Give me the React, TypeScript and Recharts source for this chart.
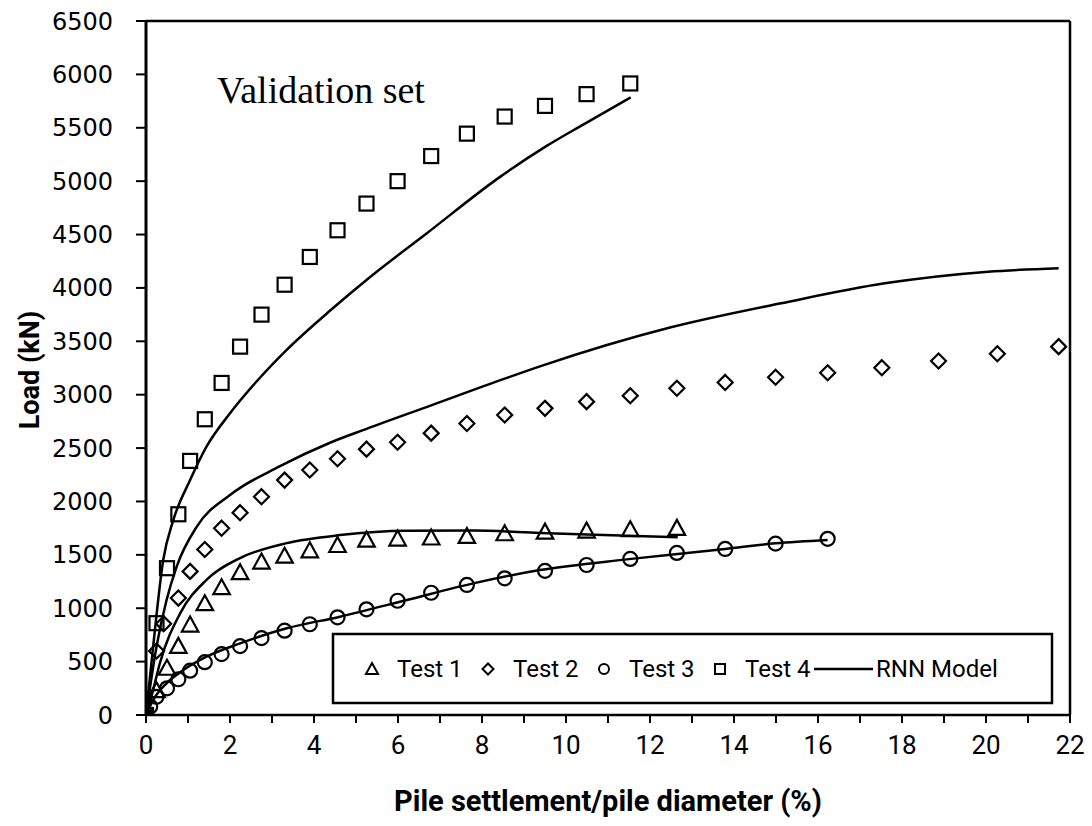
import React from 'react';
import { ComposedChart, Scatter, Line, XAxis, YAxis, ReferenceLine, Customized } from 'recharts';

const test1X = [0, 0.25, 0.5, 0.77, 1.05, 1.4, 1.8, 2.24, 2.75, 3.3, 3.9, 4.56, 5.25, 5.99, 6.79, 7.64, 8.54, 9.5, 10.49, 11.53, 12.64];
const test1Y = [0, 230, 440, 645, 845, 1045, 1195, 1335, 1435, 1490, 1540, 1590, 1640, 1650, 1660, 1675, 1700, 1715, 1725, 1738, 1750];

const test2X = [0, 0.25, 0.42, 0.77, 1.05, 1.4, 1.8, 2.24, 2.75, 3.3, 3.9, 4.56, 5.25, 5.99, 6.79, 7.64, 8.54, 9.5, 10.49, 11.53, 12.64, 13.79, 14.99, 16.23, 17.52, 18.87, 20.27, 21.73];
const test2Y = [0, 600, 855, 1095, 1345, 1550, 1750, 1895, 2045, 2200, 2295, 2400, 2490, 2555, 2640, 2730, 2810, 2872, 2935, 2990, 3060, 3115, 3163, 3206, 3253, 3316, 3384, 3450];

const test3X = [0, 0.1, 0.25, 0.5, 0.77, 1.05, 1.4, 1.8, 2.24, 2.75, 3.3, 3.9, 4.56, 5.25, 5.99, 6.79, 7.64, 8.54, 9.5, 10.49, 11.53, 12.64, 13.79, 14.99, 16.23];
const test3Y = [0, 80, 170, 250, 335, 415, 495, 570, 645, 720, 790, 850, 915, 990, 1070, 1145, 1218, 1280, 1350, 1405, 1462, 1518, 1555, 1605, 1650];

const test4X = [0, 0.25, 0.5, 0.77, 1.05, 1.4, 1.8, 2.24, 2.75, 3.3, 3.9, 4.56, 5.25, 5.99, 6.79, 7.64, 8.54, 9.5, 10.49, 11.53];
const test4Y = [0, 860, 1375, 1880, 2380, 2770, 3110, 3450, 3750, 4030, 4290, 4540, 4790, 5000, 5235, 5445, 5605, 5705, 5815, 5915];

const rnn1X = [0, 0.17, 0.33, 0.81, 1.44, 2.24, 3.35, 4.62, 6.21, 7.79, 9.38, 10.5, 12.66];
const rnn1Y = [0, 235, 485, 950, 1265, 1470, 1610, 1685, 1725, 1727, 1705, 1690, 1665];

const rnn2X = [0, 0.25, 0.49, 0.73, 1.21, 2.0, 3.19, 4.38, 5.25, 6.79, 8.54, 9.38, 12.5, 15.12, 17.59, 20.05, 21.73];
const rnn2Y = [0, 640, 1077, 1390, 1765, 2060, 2330, 2550, 2680, 2900, 3150, 3265, 3631, 3856, 4043, 4152, 4185];

const rnn3X = [0, 0.17, 0.49, 0.89, 1.44, 2.24, 3.35, 4.62, 6.21, 7.79, 9.38, 11.5, 13.79, 14.99, 16.23];
const rnn3Y = [0, 140, 297, 421, 546, 671, 812, 921, 1077, 1233, 1358, 1460, 1555, 1608, 1640];

const rnn4X = [0, 0.17, 0.41, 0.65, 1.05, 1.44, 2.0, 2.67, 3.35, 4.42, 5.33, 6.68, 8.43, 9.54, 10.41, 11.54];
const rnn4Y = [0, 640, 1452, 1826, 2200, 2513, 2826, 3140, 3420, 3800, 4100, 4510, 5040, 5330, 5530, 5785];

const xTicks = [0, 1, 2, 3, 4, 5, 6, 7, 8, 9, 10, 11, 12, 13, 14, 15, 16, 17, 18, 19, 20, 21, 22];
const yTicks = [0, 500, 1000, 1500, 2000, 2500, 3000, 3500, 4000, 4500, 5000, 5500, 6000, 6500];

const legendLabels = ['Test 1', 'Test 2', 'Test 3', 'Test 4', 'RNN Model'];
const xTitle = 'Pile settlement/pile diameter (%)';
const yTitle = 'Load (kN)';
const note = 'Validation set';

const zip = (xs: number[], ys: number[]) => xs.map((x, i) => ({ x, y: ys[i] }));

const t1 = zip(test1X, test1Y);
const t2 = zip(test2X, test2Y);
const t3 = zip(test3X, test3Y);
const t4 = zip(test4X, test4Y);
const r1 = zip(rnn1X, rnn1Y);
const r2 = zip(rnn2X, rnn2Y);
const r3 = zip(rnn3X, rnn3Y);
const r4 = zip(rnn4X, rnn4Y);

const SANS = "Roboto, 'Noto Sans', sans-serif";
const SW = 2.2;

const triPath = (cx: number, cy: number, s: number) =>
  `M${cx},${cy - s * 0.55} L${cx + s * 0.55},${cy + s * 0.45} L${cx - s * 0.55},${cy + s * 0.45} Z`;
const diaPath = (cx: number, cy: number, s: number) =>
  `M${cx},${cy - s / 2} L${cx + s / 2},${cy} L${cx},${cy + s / 2} L${cx - s / 2},${cy} Z`;

const Tri = (p: any) => <path d={triPath(p.cx, p.cy, 15)} fill="none" stroke="#000" strokeWidth={SW} />;
const Dia = (p: any) => <path d={diaPath(p.cx, p.cy, 15)} fill="none" stroke="#000" strokeWidth={SW} />;
const Cir = (p: any) => <circle cx={p.cx} cy={p.cy} r={7} fill="none" stroke="#000" strokeWidth={SW} />;
const Sq = (p: any) => <rect x={p.cx - 7} y={p.cy - 7} width={14} height={14} fill="none" stroke="#000" strokeWidth={SW} />;

const Overlay = () => {
  const ly = 661;
  const fs = 24;
  const step = 116;
  const t0 = 389;
  return (
    <g>
      <text x={209} y={95} fontFamily="'Liberation Serif', 'Times New Roman', serif" fontSize={38} fill="#000">{note}</text>
      <text x={600} y={803} textAnchor="middle" fontFamily={SANS} fontWeight="bold" fontSize={29} fill="#000">{xTitle}</text>
      <text x={0} y={0} transform="translate(31,362) rotate(-90)" textAnchor="middle" fontFamily={SANS} fontWeight="bold" fontSize={27} fill="#000">{yTitle}</text>
      <rect x={325} y={626} width={719} height={69} fill="#fff" stroke="#000" strokeWidth={2.5} />
      <path d={triPath(t0 - 25, ly, 11)} fill="none" stroke="#000" strokeWidth={2} />
      <text x={t0} y={ly + 8} fontFamily={SANS} fontSize={fs} fill="#000">{legendLabels[0]}</text>
      <path d={diaPath(t0 + step - 25, ly, 11)} fill="none" stroke="#000" strokeWidth={2} />
      <text x={t0 + step} y={ly + 8} fontFamily={SANS} fontSize={fs} fill="#000">{legendLabels[1]}</text>
      <circle cx={t0 + 2 * step - 25} cy={ly} r={5} fill="none" stroke="#000" strokeWidth={2} />
      <text x={t0 + 2 * step} y={ly + 8} fontFamily={SANS} fontSize={fs} fill="#000">{legendLabels[2]}</text>
      <rect x={t0 + 3 * step - 30} y={ly - 5} width={10} height={10} fill="none" stroke="#000" strokeWidth={2} />
      <text x={t0 + 3 * step} y={ly + 8} fontFamily={SANS} fontSize={fs} fill="#000">{legendLabels[3]}</text>
      <line x1={t0 + 3 * step + 69} y1={ly} x2={t0 + 3 * step + 128} y2={ly} stroke="#000" strokeWidth={2.5} />
      <text x={t0 + 3 * step + 131} y={ly + 8} fontFamily={SANS} fontSize={fs} fill="#000">{legendLabels[4]}</text>
    </g>
  );
};

export default function App() {
  const tickStyle = { fill: '#000', fontSize: 26, fontFamily: SANS };
  return (
    <ComposedChart width={1076} height={810} margin={{ top: 13, right: 14, bottom: 13, left: 38 }}>
      <XAxis
        type="number"
        dataKey="x"
        domain={[0, 22]}
        ticks={xTicks}
        interval={0}
        allowDataOverflow
        height={90}
        tickSize={8}
        tickMargin={13}
        tick={tickStyle}
        tickFormatter={(v: number) => (v % 2 === 0 ? String(v) : '')}
        axisLine={{ stroke: '#000', strokeWidth: 2.5 }}
        tickLine={{ stroke: '#000', strokeWidth: 2 }}
      />
      <YAxis
        type="number"
        dataKey="y"
        domain={[0, 6500]}
        ticks={yTicks}
        interval={0}
        allowDataOverflow
        width={100}
        tickSize={10}
        tickMargin={23}
        tick={{ fill: '#000', fontSize: 24, fontFamily: "'DejaVu Sans', sans-serif" }}
        axisLine={{ stroke: '#000', strokeWidth: 3 }}
        tickLine={{ stroke: '#000', strokeWidth: 2 }}
      />
      <ReferenceLine y={6500} stroke="#000" strokeWidth={2.5} />
      <ReferenceLine x={22} stroke="#000" strokeWidth={2.5} />
      <Line data={r1} dataKey="y" type="monotone" stroke="#000" strokeWidth={2.5} dot={false} isAnimationActive={false} />
      <Line data={r2} dataKey="y" type="monotone" stroke="#000" strokeWidth={2.5} dot={false} isAnimationActive={false} />
      <Line data={r3} dataKey="y" type="monotone" stroke="#000" strokeWidth={2.5} dot={false} isAnimationActive={false} />
      <Line data={r4} dataKey="y" type="monotone" stroke="#000" strokeWidth={2.5} dot={false} isAnimationActive={false} />
      <Scatter data={t1} shape={Tri} isAnimationActive={false} />
      <Scatter data={t2} shape={Dia} isAnimationActive={false} />
      <Scatter data={t3} shape={Cir} isAnimationActive={false} />
      <Scatter data={t4} shape={Sq} isAnimationActive={false} />
      <Customized component={Overlay} />
    </ComposedChart>
  );
}
